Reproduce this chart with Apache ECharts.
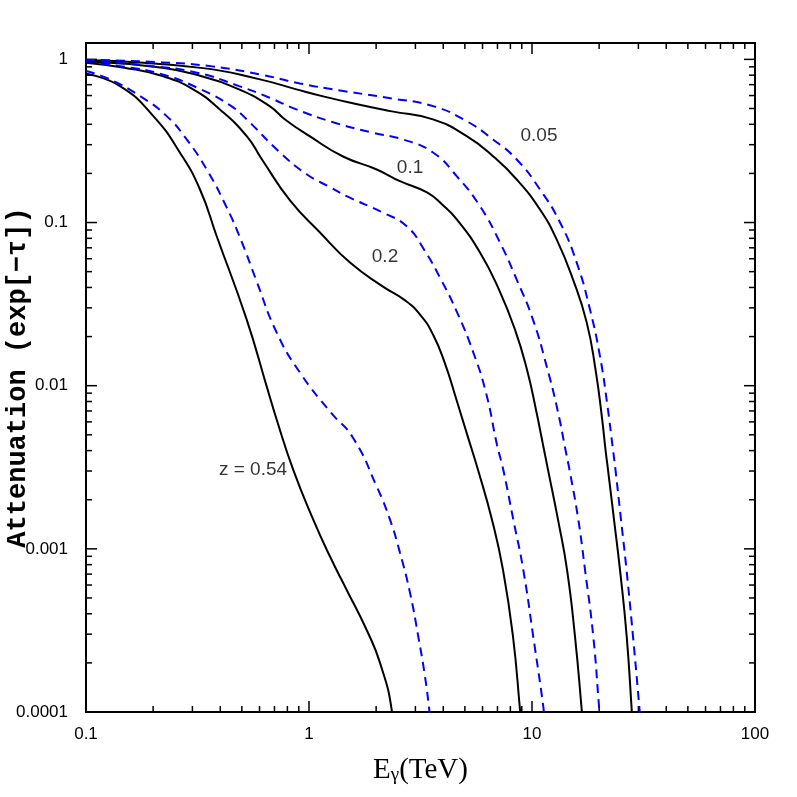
<!DOCTYPE html>
<html>
<head>
<meta charset="utf-8">
<title>Attenuation vs energy</title>
<script src="https://cdn.jsdelivr.net/npm/echarts@6/dist/echarts.min.js"></script>
<style>
  html, body { margin: 0; padding: 0; background: #fff; }
  #chart { width: 797px; height: 797px; }
</style>
</head>
<body>
<div id="chart"></div>
<script>
// [E (TeV), exp(-tau)]
const solid054 = [[0.1, 0.817], [0.1421, 0.686], [0.2004, 0.449], [0.2639, 0.2677], [0.3245, 0.1594], [0.3856, 0.0824],
  [0.5256, 0.0254], [0.646, 0.0099], [0.7165, 0.00618], [0.850, 0.00305], [1.045, 0.00151],
  [1.242, 0.000897], [1.476, 0.00056], [1.814, 0.000318], [2.082, 0.0002], [2.349, 0.000103], [2.36, 0.0000945]]
const dashed054 = [[0.1, 0.848], [0.1281, 0.754], [0.1747, 0.5955], [0.2301, 0.449], [0.2829, 0.323], [0.3477, 0.2114],
  [0.4276, 0.1236], [0.5008, 0.0754], [0.5784, 0.0447], [0.7165, 0.02114], [0.9111, 0.01202], [1.255, 0.00683],
  [1.575, 0.0048], [2.012, 0.00241], [2.308, 0.00151], [2.559, 0.000945], [2.838, 0.000537], [3.091, 0.00029],
  [3.313, 0.0001646], [3.463, 0.000103], [3.48, 0.0000945]]
const solid02 = [[0.1, 0.955], [0.1485, 0.889], [0.2203, 0.790], [0.3022, 0.655], [0.3985, 0.4934], [0.5256, 0.3384],
  [0.6155, 0.2435], [0.8219, 0.1365], [1.120, 0.0868], [1.527, 0.0568], [2.147, 0.0405], [2.667, 0.0337],
  [3.146, 0.0273], [3.598, 0.0206], [4.073, 0.01365], [4.585, 0.0082], [5.137, 0.00494], [5.725, 0.00305],
  [6.615, 0.00151], [7.413, 0.000743], [8.219, 0.00029], [8.837, 0.000103], [8.88, 0.0000945]]
const dashed02 = [[0.1, 0.965], [0.1485, 0.902], [0.2203, 0.809], [0.3271, 0.655], [0.4487, 0.517], [0.5256, 0.4285],
  [0.7413, 0.2688], [0.9795, 0.197], [1.2526, 0.1639], [1.476, 0.145], [2.154, 0.1147], [2.743, 0.0949],
  [3.279, 0.0683], [3.908, 0.0447], [4.597, 0.02844], [5.438, 0.01617], [6.219, 0.00906], [6.966, 0.00435],
  [7.434, 0.00305], [8.245, 0.00151], [9.141, 0.000743], [10.13, 0.00029], [11.24, 0.000108], [11.32, 0.0000945]]
const solid01 = [[0.1, 0.975], [0.2203, 0.889], [0.3271, 0.790], [0.4856, 0.655], [0.6658, 0.517], [0.7806, 0.4285],
  [1.0104, 0.337], [1.421, 0.254], [2.012, 0.2114], [2.559, 0.1792], [3.381, 0.1528], [3.955, 0.129], [4.610, 0.1043],
  [5.845, 0.0655], [7.112, 0.0388], [8.39, 0.02206], [9.497, 0.01253], [10.42, 0.00712], [11.32, 0.00405],
  [11.80, 0.00305], [13.08, 0.00151], [14.36, 0.000743], [15.59, 0.00029], [16.71, 0.000103], [16.76, 0.0000945]]
const dashed01 = [[0.1, 0.985], [0.1957, 0.910], [0.3146, 0.829], [0.4856, 0.686], [0.6658, 0.582], [0.878, 0.4934],
  [1.304, 0.409], [1.934, 0.355], [2.639, 0.323], [3.598, 0.2688], [4.597, 0.1923], [5.845, 0.1259],
  [7.185, 0.0754], [8.54, 0.0447], [10.10, 0.0254], [11.64, 0.01313], [13.01, 0.00712], [14.13, 0.00405],
  [14.73, 0.00305], [16.13, 0.00151], [17.29, 0.000743], [18.83, 0.00029], [20.04, 0.000103], [20.18, 0.0000945]]
const solid005 = [[0.1, 0.99], [0.3271, 0.887], [0.6029, 0.754], [0.878, 0.655], [1.158, 0.593], [1.588, 0.537],
  [2.356, 0.48], [3.598, 0.4285], [5.095, 0.3384], [6.686, 0.255], [8.54, 0.1836], [10.86, 0.1202],
  [12.91, 0.0786], [15.28, 0.0447], [17.60, 0.02435], [19.27, 0.01253], [20.60, 0.00636], [21.36, 0.00405],
  [21.92, 0.00305], [23.32, 0.00151], [24.81, 0.000743], [26.59, 0.00029], [28.00, 0.000103], [28.08, 0.0000945]]
const dashed005 = [[0.1, 0.995], [0.2203, 0.958], [0.3681, 0.906], [0.6029, 0.809], [0.9111, 0.712], [1.377, 0.645],
  [2.356, 0.576], [3.598, 0.517], [5.095, 0.418], [6.686, 0.323], [8.54, 0.2435],
  [10.86, 0.1594], [13.36, 0.1], [15.87, 0.0568], [18.20, 0.02926], [20.18, 0.01512], [21.70, 0.00787],
  [23.08, 0.00405], [23.68, 0.00305], [25.07, 0.00151], [26.54, 0.000743], [28.38, 0.00029], [30.28, 0.000108],
  [30.50, 0.0000945]]

// curve labels: text, E, attenuation
const curveLabels = [['0.05', 10.75, 0.342], ['0.1', 2.838, 0.2175], ['0.2', 2.192, 0.0619], ['z = 0.54', 0.561, 0.00305]]

// axis range and ticks
const X_MIN = 0.1, X_MAX = 100
const Y_MIN = 0.0001, Y_MAX = 1.26
const xMajor = [1, 10]
const yMajor = [0.001, 0.01, 0.1, 1]
const xDecades = [0.1, 1, 10]
const yDecades = [0.0001, 0.001, 0.01, 0.1]
const mantissa = [2, 3, 4, 5, 6, 7, 8, 9]

const MAJOR_LEN = 11
const MINOR_LEN = 6

let xTickData = xMajor.map(v => [v, Y_MIN, MAJOR_LEN])
xDecades.forEach(d => mantissa.forEach(m => xTickData.push([d * m, Y_MIN, MINOR_LEN])))
let yTickData = yMajor.map(v => [X_MIN, v, MAJOR_LEN])
yDecades.forEach(d => mantissa.forEach(m => yTickData.push([X_MIN, d * m, MINOR_LEN])))

const tickStyle = { stroke: '#000', lineWidth: 1.5 }

// x ticks: bottom and top, pointing inward
function renderXTick(params, api) {
  const v = api.value(0)
  const len = api.value(2)
  const b = api.coord([v, Y_MIN])
  const t = api.coord([v, Y_MAX])
  return {
    type: 'group',
    children: [
      { type: 'line', shape: { x1: b[0], y1: b[1], x2: b[0], y2: b[1] - len }, style: tickStyle },
      { type: 'line', shape: { x1: t[0], y1: t[1], x2: t[0], y2: t[1] + len }, style: tickStyle }
    ]
  }
}
// y ticks: left and right
function renderYTick(params, api) {
  const v = api.value(1)
  const len = api.value(2)
  const l = api.coord([X_MIN, v])
  const r = api.coord([X_MAX, v])
  return {
    type: 'group',
    children: [
      { type: 'line', shape: { x1: l[0], y1: l[1], x2: l[0] + len, y2: l[1] }, style: tickStyle },
      { type: 'line', shape: { x1: r[0], y1: r[1], x2: r[0] - len, y2: r[1] }, style: tickStyle }
    ]
  }
}

function decadeLabel(v) {
  const lg = Math.log10(v)
  if (Math.abs(lg - Math.round(lg)) > 1e-6) return ''
  return String(Math.pow(10, Math.round(lg)).toFixed(Math.max(0, -Math.round(lg))))
}

function curve(name, data, dashed) {
  return {
    name: name,
    type: 'line',
    data: data,
    smooth: 0.5,
    showSymbol: false,
    symbol: 'none',
    silent: true,
    lineStyle: dashed
      ? { color: '#0000ff', width: 2, type: [9, 6] }
      : { color: '#000', width: 2 }
  }
}

const myChart = echarts.init(document.getElementById('chart'))
const option = {
  animation: false,
  backgroundColor: '#fff',
  grid: {
    left: 86,
    top: 43,
    width: 669,
    height: 669,
    containLabel: false,
    outerBoundsMode: 'none',
    show: true,
    borderColor: '#000',
    borderWidth: 2,
    backgroundColor: 'transparent'
  },
  xAxis: {
    type: 'log',
    logBase: 10,
    min: X_MIN,
    max: X_MAX,
    axisLine: { show: false },
    axisTick: { show: false },
    splitLine: { show: false },
    axisLabel: {
      margin: 14,
      color: '#000',
      fontSize: 17,
      fontFamily: 'Liberation Sans',
      formatter: decadeLabel
    },
    name: '{e|E}{g|γ}{e|(TeV)}',
    nameLocation: 'middle',
    nameGap: 38,
    nameMoveOverlap: false,
    nameTextStyle: {
      color: '#000',
      rich: {
        e: { fontSize: 29, fontFamily: 'Liberation Serif', color: '#000', verticalAlign: 'bottom' },
        g: { fontSize: 19, fontFamily: 'Liberation Serif', color: '#000', verticalAlign: 'bottom', padding: [16, 0, 0, 0] }
      }
    }
  },
  yAxis: {
    type: 'log',
    logBase: 10,
    min: Y_MIN,
    max: Y_MAX,
    axisLine: { show: false },
    axisTick: { show: false },
    splitLine: { show: false },
    axisLabel: {
      margin: 18,
      color: '#000',
      fontSize: 17,
      fontFamily: 'Liberation Sans',
      formatter: decadeLabel
    },
    name: 'Attenuation (exp[−τ])',
    nameLocation: 'middle',
    nameGap: 54,
    nameMoveOverlap: false,
    nameTextStyle: {
      color: '#000',
      fontSize: 27,
      fontWeight: 'bold',
      fontFamily: 'Liberation Mono'
    }
  },
  series: [
    curve('z=0.54', solid054, false),
    curve('z=0.54 b', dashed054, true),
    curve('z=0.2', solid02, false),
    curve('z=0.2 b', dashed02, true),
    curve('z=0.1', solid01, false),
    curve('z=0.1 b', dashed01, true),
    curve('z=0.05', solid005, false),
    curve('z=0.05 b', dashed005, true),
    {
      type: 'custom',
      silent: true,
      renderItem: renderXTick,
      encode: { x: 0, y: 1 },
      data: xTickData
    },
    {
      type: 'custom',
      silent: true,
      renderItem: renderYTick,
      encode: { x: 0, y: 1 },
      data: yTickData
    },
    {
      type: 'scatter',
      silent: true,
      symbolSize: 0,
      data: curveLabels.map(l => ({ name: l[0], value: [l[1], l[2]] })),
      label: {
        show: true,
        position: 'inside',
        formatter: '{b}',
        color: '#000',
        fontSize: 19,
        fontFamily: 'Liberation Sans'
      }
    }
  ]
}
myChart.setOption(option)
</script>
</body>
</html>
